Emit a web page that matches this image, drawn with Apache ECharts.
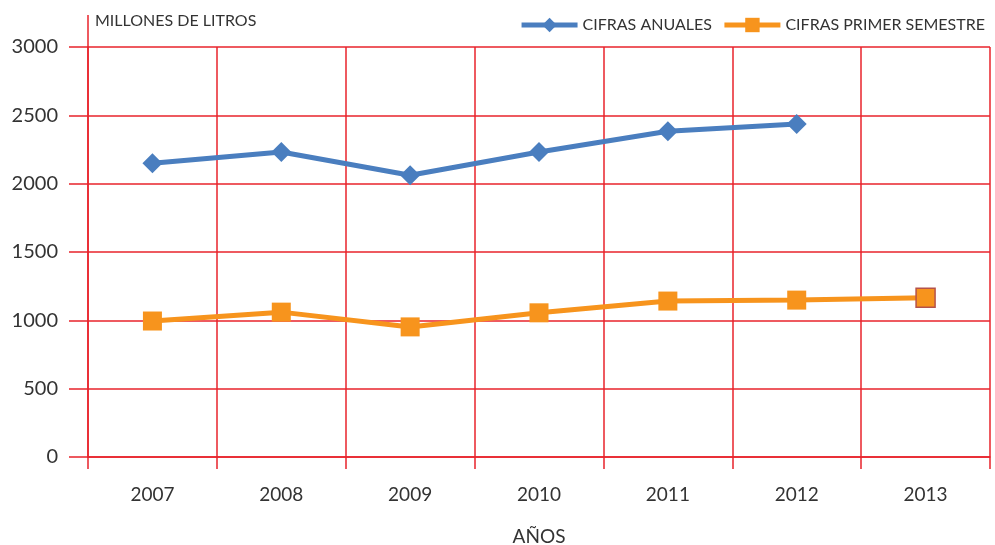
<!DOCTYPE html>
<html>
<head>
<meta charset="utf-8">
<script src="https://cdn.jsdelivr.net/npm/echarts@6/dist/echarts.min.js"></script>
<style>
  html, body { margin: 0; padding: 0; background: #fff; }
  #chart { width: 995px; height: 545px; }
</style>
</head>
<body>
<div id="chart"></div>
<script>
const years = ['2007', '2008', '2009', '2010', '2011', '2012', '2013'];
const anuales = [2150, 2232, 2062, 2232, 2383, 2436, null];
const semestre = [995, 1060, 952, 1055, 1141, 1148, 1165];

const gridRed = '#e8232b';
const font = 'Lato, "Noto Sans", sans-serif';

const chart = echarts.init(document.getElementById('chart'));

const option = {
  animation: false,
  textStyle: { fontFamily: font },
  legend: {
    top: 12,
    right: 5,
    itemWidth: 56,
    itemHeight: 18,
    itemGap: 10,
    lineStyle: { width: 5 },
    textStyle: { fontSize: 16, color: '#333', fontFamily: font },
    data: ['CIFRAS ANUALES', 'CIFRAS PRIMER SEMESTRE'],
  },
  grid: {
    left: 88,
    right: 5,
    top: 47,
    bottom: 88,
    containLabel: false,
    outerBoundsMode: 'none',
  },
  xAxis: {
    type: 'category',
    data: years,
    boundaryGap: true,
    name: 'AÑOS',
    nameLocation: 'middle',
    nameGap: 70,
    nameTextStyle: { fontSize: 19, color: '#333' },
    axisLine: { show: true, lineStyle: { color: gridRed, width: 1.5 } },
    axisTick: { show: true, length: 12, lineStyle: { color: gridRed, width: 1.5 } },
    axisLabel: { fontSize: 19, color: '#333', margin: 28 },
    splitLine: { show: true, lineStyle: { color: gridRed, width: 1.5 } },
  },
  yAxis: {
    type: 'value',
    min: 0,
    max: 3000,
    interval: 500,
    axisLine: { show: true, lineStyle: { color: gridRed, width: 1.5 } },
    axisTick: { show: true, length: 19, lineStyle: { color: gridRed, width: 1.5 } },
    axisLabel: {
      fontSize: 20, color: '#333', margin: 30, formatter: (v) => String(v),
    },
    splitLine: { show: true, lineStyle: { color: gridRed, width: 1.5 } },
  },
  graphic: [
    {
      type: 'line',
      shape: { x1: 88, y1: 15, x2: 88, y2: 47 },
      style: { stroke: gridRed, lineWidth: 1.5 },
    },
    {
      type: 'text',
      left: 95,
      top: 13,
      style: { text: 'MILLONES DE LITROS', fontSize: 16, fill: '#333', fontFamily: font },
    },
  ],
  series: [
    {
      name: 'CIFRAS ANUALES',
      type: 'line',
      data: anuales,
      symbol: 'diamond',
      symbolSize: 20,
      lineStyle: { width: 5, color: '#4a7ebf' },
      itemStyle: { color: '#4a7ebf' },
      z: 3,
    },
    {
      name: 'CIFRAS PRIMER SEMESTRE',
      type: 'line',
      data: semestre.map((v, i) => (i === semestre.length - 1
        ? { value: v, itemStyle: { borderColor: '#b5524a', borderWidth: 1.5 } }
        : v)),
      symbol: 'rect',
      symbolSize: 19,
      lineStyle: { width: 5, color: '#f7941d' },
      itemStyle: { color: '#f7941d' },
      z: 3,
    },
  ],
};

chart.setOption(option);
</script>
</body>
</html>
